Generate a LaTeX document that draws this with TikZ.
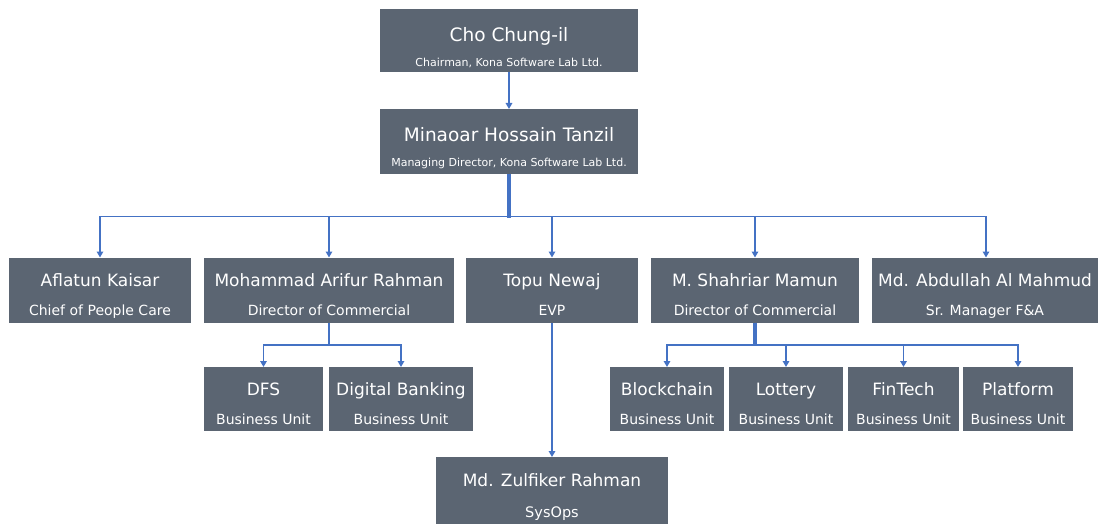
\documentclass[tikz,border=0pt]{standalone}
\usepackage{fontspec}
\setmainfont{DejaVu Sans}
\usetikzlibrary{arrows.meta}
\definecolor{boxgray}{HTML}{5B6572}
\definecolor{linkblue}{HTML}{4472C4}

\begin{document}
\begin{tikzpicture}[x=1pt,y=-1pt,
  unit/.style={fill=boxgray, inner sep=0pt, outer sep=0pt, minimum height=65pt},
  who/.style={anchor=base, text=white, inner sep=0pt, font=\fontsize{17}{20}\selectfont},
  role/.style={anchor=base, text=white, inner sep=0pt, font=\fontsize{14}{17}\selectfont},
  topwho/.style={who, font=\fontsize{18.5}{22}\selectfont},
  toprole/.style={role, font=\fontsize{11}{13}\selectfont},
  link/.style={draw=linkblue, line width=1.9pt, -{Triangle[length=6pt,width=6.5pt]}},
  trunk/.style={draw=linkblue, line width=3.6pt}]
\useasboundingbox (0,0) rectangle (1101,524);
\fill[white] (0,0) rectangle (1101,524);
\clip (0,0) rectangle (1101,524);

% top
\node[unit, minimum width=258pt, minimum height=63pt] (cho) at (509,41) {};
\node[topwho] (cho-who) at ([yshift=-32.5pt]cho.north) {Cho Chung-il};
\node[toprole] (cho-role) at ([yshift=-57.5pt]cho.north) {Chairman, Kona Software Lab Ltd.};

\node[unit, minimum width=258pt] (minaoar) at (509,141.5) {};
\node[topwho] (minaoar-who) at ([yshift=-32.5pt]minaoar.north) {Minaoar Hossain Tanzil};
\node[toprole] (minaoar-role) at ([yshift=-57.5pt]minaoar.north) {Managing Director, Kona Software Lab Ltd.};

% second row
\node[unit, minimum width=182pt] (aflatun) at (100,290) {};
\node[who] (aflatun-who) at ([yshift=-29pt]aflatun.north) {Aflatun Kaisar};
\node[role] (aflatun-role) at ([yshift=-58pt]aflatun.north) {Chief of People Care};

\node[unit, minimum width=250pt] (mohammad) at (329,290) {};
\node[who] (mohammad-who) at ([yshift=-29pt]mohammad.north) {Mohammad Arifur Rahman};
\node[role] (mohammad-role) at ([yshift=-58pt]mohammad.north) {Director of Commercial};

\node[unit, minimum width=172pt] (topu) at (552,290) {};
\node[who] (topu-who) at ([yshift=-29pt]topu.north) {Topu Newaj};
\node[role] (topu-role) at ([yshift=-58pt]topu.north) {EVP};

\node[unit, minimum width=208pt] (shahriar) at (755,290) {};
\node[who] (shahriar-who) at ([yshift=-29pt]shahriar.north) {M. Shahriar Mamun};
\node[role] (shahriar-role) at ([yshift=-58pt]shahriar.north) {Director of Commercial};

\node[unit, minimum width=226pt] (abdullah) at (985,290) {};
\node[who] (abdullah-who) at ([yshift=-29pt]abdullah.north) {Md. Abdullah Al Mahmud};
\node[role] (abdullah-role) at ([yshift=-58pt]abdullah.north) {Sr. Manager F\&A};

% business units
\node[unit, minimum width=119pt, minimum height=64pt] (dfs) at (263.5,399) {};
\node[who] (dfs-who) at ([yshift=-28.5pt]dfs.north) {DFS};
\node[role] (dfs-role) at ([yshift=-57.5pt]dfs.north) {Business Unit};

\node[unit, minimum width=144pt, minimum height=64pt] (banking) at (401,399) {};
\node[who] (banking-who) at ([yshift=-28.5pt]banking.north) {Digital Banking};
\node[role] (banking-role) at ([yshift=-57.5pt]banking.north) {Business Unit};

\node[unit, minimum width=114pt, minimum height=64pt] (blockchain) at (667,399) {};
\node[who] (blockchain-who) at ([yshift=-28.5pt]blockchain.north) {Blockchain};
\node[role] (blockchain-role) at ([yshift=-57.5pt]blockchain.north) {Business Unit};

\node[unit, minimum width=114pt, minimum height=64pt] (lottery) at (786,399) {};
\node[who] (lottery-who) at ([yshift=-28.5pt]lottery.north) {Lottery};
\node[role] (lottery-role) at ([yshift=-57.5pt]lottery.north) {Business Unit};

\node[unit, minimum width=111pt, minimum height=64pt] (fintech) at (903.5,399) {};
\node[who] (fintech-who) at ([yshift=-28.5pt]fintech.north) {FinTech};
\node[role] (fintech-role) at ([yshift=-57.5pt]fintech.north) {Business Unit};

\node[unit, minimum width=110pt, minimum height=64pt] (platform) at (1018,399) {};
\node[who] (platform-who) at ([yshift=-28.5pt]platform.north) {Platform};
\node[role] (platform-role) at ([yshift=-57.5pt]platform.north) {Business Unit};

% sysops
\node[unit, minimum width=232pt, minimum height=78pt] (zulfiker) at (552,496) {};
\node[who] (zulfiker-who) at ([yshift=-29pt]zulfiker.north) {Md. Zulfiker Rahman};
\node[role, font=\fontsize{14.5}{17}\selectfont] (zulfiker-role) at ([yshift=-60pt]zulfiker.north) {SysOps};

% connectors
\draw[link] (cho) -- (minaoar);
\draw[trunk] (minaoar.south) -- ++(0,43.5);
\draw[link] (minaoar.south) -- ++(0,42.5) -| (aflatun.north);
\draw[link] (minaoar.south) -- ++(0,42.5) -| (mohammad.north);
\draw[link] (minaoar.south) -- ++(0,42.5) -| (topu.north);
\draw[link] (minaoar.south) -- ++(0,42.5) -| (shahriar.north);
\draw[link] (minaoar.south) -- ++(0,42.5) -| ([xshift=1pt]abdullah.north);
\draw[link] (mohammad.south) -- ++(0,22.5) -| (dfs.north);
\draw[link] (mohammad.south) -- ++(0,22.5) -| (banking.north);
\draw[trunk] (shahriar.south) -- ++(0,23.5);
\draw[link] (shahriar.south) -- ++(0,22.5) -| (blockchain.north);
\draw[link] (shahriar.south) -- ++(0,22.5) -| (lottery.north);
\draw[link] (shahriar.south) -- ++(0,22.5) -| (fintech.north);
\draw[link] (shahriar.south) -- ++(0,22.5) -| (platform.north);
\draw[link] (topu) -- (zulfiker);
\end{tikzpicture}
\end{document}
